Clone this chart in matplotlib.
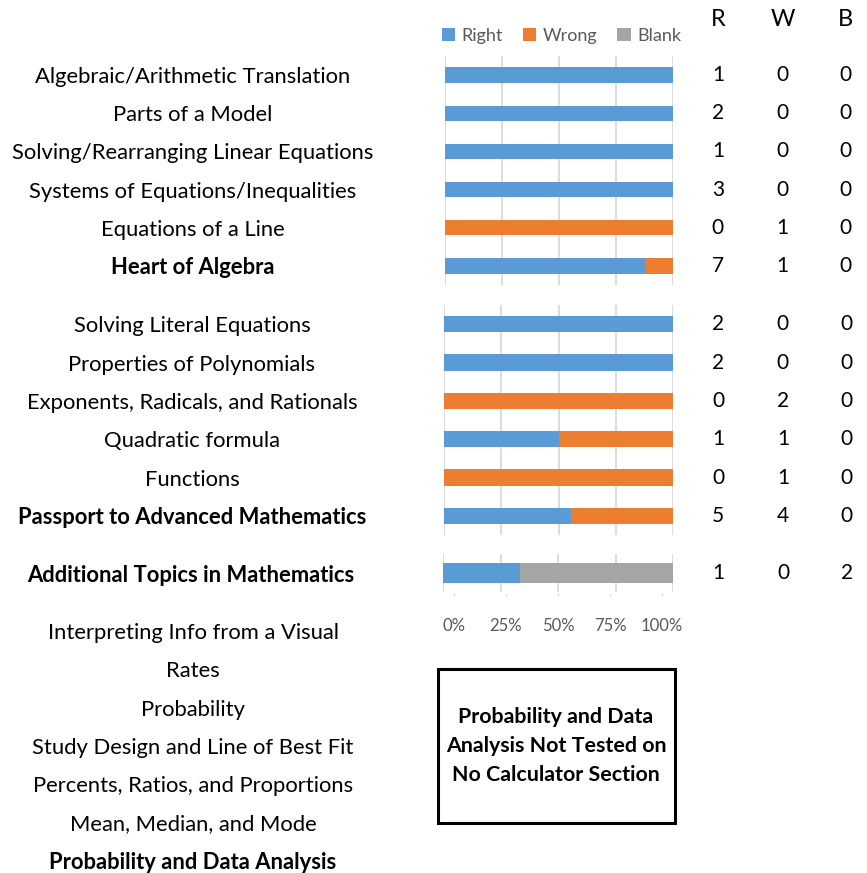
import matplotlib.pyplot as plt
from matplotlib.patches import Rectangle
import numpy as np

plt.rcParams['font.family'] = ['Lato', 'DejaVu Sans']

# ---- data ----
heart_topics = ['Algebraic/Arithmetic Translation', 'Parts of a Model',
                'Solving/Rearranging Linear Equations',
                'Systems of Equations/Inequalities', 'Equations of a Line',
                'Heart of Algebra']
heart_right = [1, 2, 1, 3, 0, 7]
heart_wrong = [0, 0, 0, 0, 1, 1]
heart_blank = [0, 0, 0, 0, 0, 0]

passport_topics = ['Solving Literal Equations', 'Properties of Polynomials',
                   'Exponents, Radicals, and Rationals', 'Quadratic formula',
                   'Functions', 'Passport to Advanced Mathematics']
passport_right = [2, 2, 0, 1, 0, 5]
passport_wrong = [0, 0, 2, 1, 1, 4]
passport_blank = [0, 0, 0, 0, 0, 0]

additional_topics = ['Additional Topics in Mathematics']
additional_right = [1]
additional_wrong = [0]
additional_blank = [2]

prob_topics = ['Interpreting Info from a Visual', 'Rates', 'Probability',
               'Study Design and Line of Best Fit',
               'Percents, Ratios, and Proportions', 'Mean, Median, and Mode',
               'Probability and Data Analysis']

pct_ticks = [0, 25, 50, 75, 100]
pct_labels = ['0%', '25%', '50%', '75%', '100%']
note = 'Probability and Data\nAnalysis Not Tested on\nNo Calculator Section'

C_RIGHT = '#5B9BD5'
C_WRONG = '#ED7D31'
C_BLANK = '#A5A5A5'
GRID = '#D9D9D9'
TXT = '#595959'
LABEL_FS = 15.8

W, H = 867, 873
fig = plt.figure(figsize=(W / 100, H / 100), dpi=100)


def px_axes(left, top, right, bottom):
    return fig.add_axes([left / W, 1 - bottom / H, (right - left) / W,
                         (bottom - top) / H])


LABEL_PAD = (445 - 193) * 72 / 100  # centre labels near x=193px


def panel(ax, topics, right, wrong, blank, bar_h, bold_last=True):
    right = np.array(right, float)
    wrong = np.array(wrong, float)
    blank = np.array(blank, float)
    total = right + wrong + blank
    y = np.arange(len(topics))
    r = right / total * 100
    w = wrong / total * 100
    b = blank / total * 100
    h1 = ax.barh(y, r, height=bar_h, color=C_RIGHT, label='Right', zorder=3)
    h2 = ax.barh(y, w, left=r, height=bar_h, color=C_WRONG, label='Wrong', zorder=3)
    h3 = ax.barh(y, b, left=r + w, height=bar_h, color=C_BLANK, label='Blank', zorder=3)
    ax.set_xlim(0, 100)
    ax.set_ylim(len(topics) - 0.5, -0.5)
    ax.set_xticks(pct_ticks)
    ax.xaxis.grid(True, color=GRID, linewidth=1.3, zorder=0)
    ax.tick_params(axis='x', length=0, labelbottom=False)
    ax.set_yticks(y)
    ax.set_yticklabels(topics, fontsize=LABEL_FS, ha='center')
    ax.tick_params(axis='y', length=0, pad=LABEL_PAD)
    for s in ax.spines.values():
        s.set_visible(False)
    if bold_last:
        ax.get_yticklabels()[-1].set_fontweight('bold')
    tr = ax.get_yaxis_transform()
    for yi, a, bb, c in zip(y, right, wrong, blank):
        for xf, v in zip([1.197, 1.48, 1.757], [a, bb, c]):
            ax.text(xf, yi, f'{int(v)}', transform=tr, ha='center',
                    va='center', fontsize=15, color='black')
    return h1, h2, h3


ax1 = px_axes(445, 56, 673, 285)
handles = panel(ax1, heart_topics, heart_right, heart_wrong, heart_blank, 0.4)
ax2 = px_axes(444, 305, 673, 535)
panel(ax2, passport_topics, passport_right, passport_wrong, passport_blank, 0.42)
ax3 = px_axes(443, 554, 673, 592)
panel(ax3, additional_topics, additional_right, additional_wrong,
      additional_blank, 0.55)

# legend
ax1.legend(handles=list(handles), loc='center', ncol=3, frameon=False,
           bbox_to_anchor=(0.51, 1 + (56 - 36) / 229), fontsize=13,
           labelcolor=TXT, handlelength=0.75, handleheight=0.75,
           handletextpad=0.35, columnspacing=1.1, borderaxespad=0)

# R W B headers
tr1 = ax1.transAxes
for xf, t in zip([1.197, 1.48, 1.757], ['R', 'W', 'B']):
    ax1.text(xf, 1 + (56 - 20) / 229, t, transform=tr1, ha='center',
             va='center', fontsize=17)

# percent axis labels
axp = px_axes(454, 590, 662, 593)
axp.set_xlim(0, 100)
axp.set_ylim(0, 1)
axp.set_xticks(pct_ticks)
axp.set_xticklabels(pct_labels, fontsize=12, color=TXT)
axp.tick_params(axis='x', length=2, color=GRID, pad=16)
axp.set_yticks([])
for s in axp.spines.values():
    s.set_visible(False)
axp.patch.set_visible(False)

# probability group (no bars)
ax4 = px_axes(445, 612, 673, 880)
ax4.set_ylim(len(prob_topics) - 0.5, -0.5)
ax4.set_yticks(np.arange(len(prob_topics)))
ax4.set_yticklabels(prob_topics, fontsize=LABEL_FS, ha='center')
ax4.tick_params(axis='y', length=0, pad=LABEL_PAD)
ax4.set_xticks([])
ax4.get_yticklabels()[-1].set_fontweight('bold')
for s in ax4.spines.values():
    s.set_visible(False)
ax4.patch.set_visible(False)

# note box
fig.patches.append(Rectangle((438 / W, 1 - 823 / H), (675 - 438) / W,
                             (823 - 669) / H, transform=fig.transFigure,
                             fill=False, edgecolor='black', linewidth=2.2))
fig.text(556 / W, 1 - 746 / H, note, ha='center', va='center',
         fontsize=15.4, fontweight='bold', linespacing=1.55)

fig.savefig('out.png', dpi=100)
